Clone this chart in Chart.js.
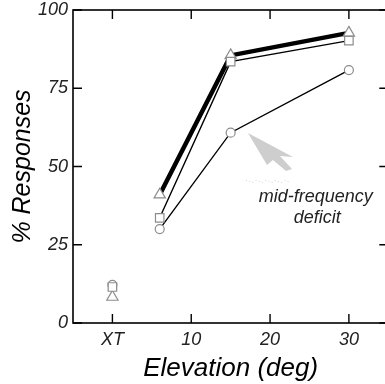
<!DOCTYPE html>
<html>
<head>
<meta charset="utf-8">
<script src="https://cdn.jsdelivr.net/npm/chart.js"></script>
<style>
    html, body { margin: 0; padding: 0; background: #fff; overflow: hidden; }
    #wrap { width: 396px; height: 384px; }
</style>
</head>
<body>
<div id="wrap"><canvas id="elevChart" width="396" height="384"></canvas></div>
<script>
// elevations (deg) for the connected points; XT sits at x = 0
const elevations = [6, 15, 30];
const xtPosition = 0;

// % responses per condition
const triangleValues = [41, 85.5, 92.7];
const squareValues = [33.6, 83.5, 90.2];
const circleValues = [30, 60.8, 80.8];

// XT control condition
const xtTriangle = 8.3;
const xtSquare = 11.5;
const xtCircle = 12.2;

const xTickValues = [0, 10, 20, 30];
const yTickValues = [0, 25, 50, 75, 100];

const toPoints = (vals) => vals.map((v, i) => ({ x: elevations[i], y: v }));

const markerGray = '#8c8c8c';
const fontFamily = "'Liberation Sans', Arial, sans-serif";

// frame with inward ticks on all four sides
const framePlugin = {
    id: 'frame',
    beforeDatasetsDraw(chart) {
        const { ctx, chartArea: a, scales: { x, y } } = chart;
        ctx.save();
        ctx.strokeStyle = '#000';
        ctx.lineWidth = 1.6;
        ctx.strokeRect(a.left, a.top, a.right - a.left, a.bottom - a.top);
        ctx.lineWidth = 1.4;
        const len = 9;
        xTickValues.forEach(v => {
            const px = x.getPixelForValue(v);
            ctx.beginPath();
            ctx.moveTo(px, a.bottom); ctx.lineTo(px, a.bottom - len);
            ctx.moveTo(px, a.top); ctx.lineTo(px, a.top + len);
            ctx.stroke();
        });
        yTickValues.forEach(v => {
            const py = y.getPixelForValue(v);
            ctx.beginPath();
            ctx.moveTo(a.left, py); ctx.lineTo(a.left + len, py);
            ctx.moveTo(a.right, py); ctx.lineTo(a.right - len, py);
            ctx.stroke();
        });
        ctx.restore();
    }
};

// gray arrow and the "mid-frequency deficit" note
const notePlugin = {
    id: 'note',
    afterDatasetsDraw(chart) {
        const { ctx, scales: { x, y } } = chart;
        const tx = x.getPixelForValue(17.2);
        const ty = y.getPixelForValue(60.7);
        ctx.save();
        ctx.fillStyle = 'rgba(185,185,185,0.7)';
        ctx.beginPath();
        ctx.moveTo(tx, ty);
        ctx.lineTo(tx + 45, ty + 24);
        ctx.lineTo(tx + 32, ty + 23);
        ctx.lineTo(tx + 44, ty + 36);
        ctx.lineTo(tx + 38, ty + 38);
        ctx.lineTo(tx + 25, ty + 27);
        ctx.lineTo(tx + 19, ty + 32);
        ctx.closePath();
        ctx.fill();
        ctx.fillStyle = 'rgba(205,205,205,0.8)';
        for (let i = 0; i < 14; i++) {
            ctx.fillRect(tx - 2 + i * 3.2, ty + 47 + (i % 3), 1, 1);
        }
        ctx.fillStyle = '#222';
        ctx.font = `italic 18px ${fontFamily}`;
        ctx.textAlign = 'center';
        ctx.textBaseline = 'middle';
        ctx.fillText('mid-frequency', x.getPixelForValue(25.8), y.getPixelForValue(40.2));
        ctx.fillText('deficit', x.getPixelForValue(26), y.getPixelForValue(33.5));
        ctx.restore();
    }
};

const marker = (style, radius) => ({
    pointStyle: style,
    pointRadius: radius,
    pointHoverRadius: radius,
    pointBackgroundColor: '#fff',
    pointBorderColor: markerGray,
    pointBorderWidth: 1.2
});

new Chart(document.getElementById('elevChart'), {
    type: 'line',
    data: {
        datasets: [
            { data: toPoints(squareValues), borderColor: '#000', borderWidth: 1.4, ...marker('rect', 6) },
            { data: [{ x: xtPosition, y: xtSquare }], showLine: false, ...marker('rect', 6) },
            { data: toPoints(triangleValues), borderColor: '#000', borderWidth: 4.5, ...marker('triangle', 6.5) },
            { data: [{ x: xtPosition, y: xtTriangle }], showLine: false, ...marker('triangle', 6.5) },
            { data: toPoints(circleValues), borderColor: '#000', borderWidth: 1.4, ...marker('circle', 4.5) },
            { data: [{ x: xtPosition, y: xtCircle }], showLine: false, ...marker('circle', 4.5) }
        ]
    },
    options: {
        responsive: false,
        animation: false,
        layout: { padding: { top: 10, right: 5, left: 0, bottom: 0 } },
        plugins: { legend: { display: false }, tooltip: { enabled: false } },
        scales: {
            x: {
                type: 'linear',
                min: -5,
                max: 35,
                grid: { display: false, drawTicks: false },
                border: { display: false },
                afterBuildTicks: (scale) => { scale.ticks = xTickValues.map(v => ({ value: v })); },
                afterFit: (scale) => { scale.height = 61; },
                ticks: {
                    color: '#222',
                    padding: 6,
                    maxRotation: 0,
                    font: { family: fontFamily, style: 'italic', size: 18 },
                    callback: (v) => v === xtPosition ? 'XT' : v
                },
                title: {
                    display: true,
                    text: 'Elevation (deg)',
                    color: '#000',
                    padding: { top: 0, bottom: 0 },
                    font: { family: fontFamily, style: 'italic', size: 26 }
                }
            },
            y: {
                min: 0,
                max: 100,
                grid: { display: false, drawTicks: false },
                border: { display: false },
                afterBuildTicks: (scale) => { scale.ticks = yTickValues.map(v => ({ value: v })); },
                afterFit: (scale) => {
                    scale.width = 73;
                    scale.paddingTop = 0;
                    scale.paddingBottom = 0;
                },
                ticks: {
                    color: '#222',
                    padding: 5,
                    font: { family: fontFamily, style: 'italic', size: 18 }
                },
                title: {
                    display: true,
                    text: '% Responses',
                    color: '#000',
                    padding: { top: 8, bottom: 0 },
                    font: { family: fontFamily, style: 'italic', size: 25 }
                }
            }
        }
    },
    plugins: [framePlugin, notePlugin]
});
</script>
</body>
</html>
